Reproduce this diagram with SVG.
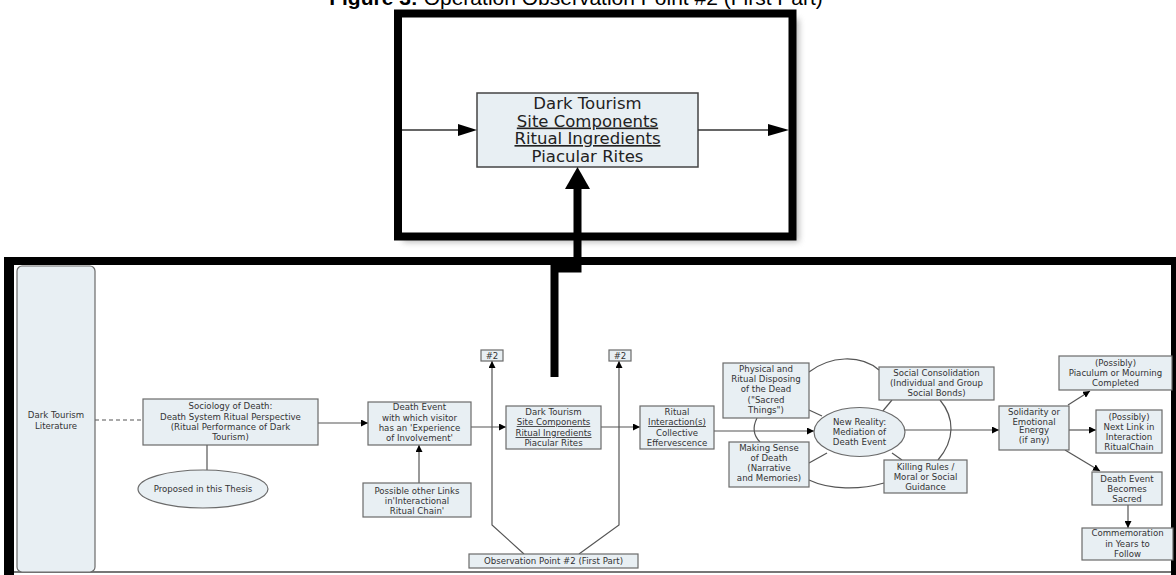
<svg xmlns="http://www.w3.org/2000/svg" width="1176" height="575" viewBox="0 0 1176 575">
<style>
.b{fill:#e8eff3;stroke:#6a6a6a;stroke-width:1.2}
.t{font-family:"DejaVu Sans",Verdana,sans-serif;font-size:8.6px;fill:#333;text-anchor:middle}
.T{font-family:"DejaVu Sans",Verdana,sans-serif;font-size:16.5px;fill:#222;text-anchor:middle}
.u{text-decoration:underline}
.c{fill:none;stroke:#555;stroke-width:1.2}
.k{fill:none;stroke:#000;stroke-width:8}
</style>
<defs>
<marker id="a" viewBox="0 0 10 10" refX="10" refY="5" markerWidth="7" markerHeight="7" markerUnits="userSpaceOnUse" orient="auto"><path d="M0,0L10,5L0,10z" fill="#000"/></marker>
<filter id="sh" x="-10%" y="-10%" width="130%" height="130%"><feGaussianBlur stdDeviation="3"/></filter>
</defs>
<rect width="1176" height="575" fill="#fff"/>
<text x="576" y="5" font-family="Liberation Sans,Arial,sans-serif" font-size="21" fill="#000" text-anchor="middle"><tspan font-weight="bold">Figure 3:</tspan> Operation Observation Point #2 (First Part)</text>

<g id="frame-bottom">
<rect x="14" y="265" width="1157" height="306" fill="#fff"/>
<rect x="4" y="257" width="1172" height="8" fill="#000"/>
<rect x="4" y="257" width="10" height="318" fill="#000"/>
<rect x="1171" y="257" width="5" height="318" fill="#000"/>
<line x1="14" y1="572" x2="1171" y2="572" stroke="#777" stroke-width="2"/>
</g>

<g id="zoom-frame">
<rect x="403" y="19" width="396" height="223" fill="#888" opacity="0.6" filter="url(#sh)"/>
<rect x="398" y="13.5" width="394.5" height="223" fill="#fff" stroke="#000" stroke-width="8"/>
<g id="zoom-box">
<rect x="477" y="93" width="221" height="74" fill="#e8eff3" stroke="#444" stroke-width="1.5"/>
<text class="T" x="587.5" y="109">Dark Tourism</text>
<text class="T u" x="587.5" y="126.5">Site Components</text>
<text class="T u" x="587.5" y="144">Ritual Ingredients</text>
<text class="T" x="587.5" y="162">Piacular Rites</text>
</g>
<line x1="402" y1="130" x2="462" y2="130" stroke="#333" stroke-width="1.5"/>
<path d="M458,124L477,130L458,136z" fill="#000"/>
<line x1="698" y1="130" x2="772" y2="130" stroke="#333" stroke-width="1.5"/>
<path d="M768,124L789,130L768,136z" fill="#000"/>
</g>

<g id="thick-arrow">
<path class="k" d="M577.5,186V268.5H554.5V377"/>
<path d="M565,189L577.5,167L590,189z" fill="#000"/>
</g>

<g id="connectors">
<line x1="95" y1="420" x2="143" y2="420" stroke="#555" stroke-width="1.2" stroke-dasharray="4,3"/>
<line class="c" x1="207" y1="445" x2="207" y2="470"/>
<line class="c" x1="318" y1="423" x2="368" y2="423" marker-end="url(#a)"/>
<line class="c" x1="419" y1="483" x2="419" y2="445" marker-end="url(#a)"/>
<line class="c" x1="471" y1="427" x2="506" y2="427" marker-end="url(#a)"/>
<line class="c" x1="601" y1="427" x2="640" y2="427" marker-end="url(#a)"/>
<polyline class="c" points="524,554 492,525 492,361" marker-end="url(#a)"/>
<polyline class="c" points="579,554 619,525 619,361" marker-end="url(#a)"/>
<line class="c" x1="714" y1="431" x2="814" y2="431" marker-end="url(#a)"/>
<line class="c" x1="905" y1="430" x2="999" y2="430" marker-end="url(#a)"/>
<path class="c" d="M809,372C830,356 860,354 879,370"/>
<line class="c" x1="809" y1="410" x2="822" y2="416"/>
<path class="c" d="M757,418C752,428 754,436 760,442"/>
<line class="c" x1="809" y1="463" x2="827" y2="453"/>
<path class="c" d="M809,480C830,490 860,490 884,483"/>
<line class="c" x1="892" y1="453" x2="902" y2="460"/>
<line class="c" x1="882" y1="412" x2="892" y2="400"/>
<path class="c" d="M940,400C955,418 955,440 938,460"/>
<line class="c" x1="1068" y1="405" x2="1090" y2="391" marker-end="url(#a)"/>
<line class="c" x1="1069" y1="430" x2="1096" y2="430" marker-end="url(#a)"/>
<line class="c" x1="1065" y1="450" x2="1100" y2="471" marker-end="url(#a)"/>
<line class="c" x1="1128" y1="505" x2="1128" y2="528" marker-end="url(#a)"/>
</g>

<g id="literature">
<rect class="b" x="17" y="266" width="78" height="306" rx="5"/>
<text class="t" x="56" y="418">Dark Tourism</text>
<text class="t" x="56" y="429">Literature</text>
</g>
<g id="sociology">
<rect class="b" x="143" y="399" width="175" height="46"/>
<text class="t" x="230.5" y="409">Sociology of Death:</text>
<text class="t" x="230.5" y="420">Death System Ritual Perspective</text>
<text class="t" x="230.5" y="430">(Ritual Performance of Dark</text>
<text class="t" x="230.5" y="440">Tourism)</text>
</g>
<g id="proposed">
<ellipse class="b" cx="203" cy="489" rx="65" ry="19"/>
<text class="t" x="203" y="492">Proposed in this Thesis</text>
</g>
<g id="death-event">
<rect class="b" x="368" y="402" width="103" height="43"/>
<text class="t" x="419.5" y="410">Death Event</text>
<text class="t" x="419.5" y="421">with which visitor</text>
<text class="t" x="419.5" y="431">has an 'Experience</text>
<text class="t" x="419.5" y="441">of Involvement'</text>
</g>
<g id="other-links">
<rect class="b" x="363" y="483" width="108" height="34"/>
<text class="t" x="417" y="494">Possible other Links</text>
<text class="t" x="417" y="504">in'Interactional</text>
<text class="t" x="417" y="514">Ritual Chain'</text>
</g>
<g id="dark-tourism">
<rect class="b" x="506" y="406" width="95" height="43"/>
<text class="t" x="553.5" y="415">Dark Tourism</text>
<text class="t u" x="553.5" y="425">Site Components</text>
<text class="t u" x="553.5" y="436">Ritual Ingredients</text>
<text class="t" x="553.5" y="446">Piacular Rites</text>
</g>
<g id="ritual">
<rect class="b" x="640" y="406" width="74" height="43"/>
<text class="t" x="677" y="415">Ritual</text>
<text class="t u" x="677" y="425">Interaction(s)</text>
<text class="t" x="677" y="436">Collective</text>
<text class="t" x="677" y="446">Effervescence</text>
</g>
<g id="op2-a">
<rect class="b" x="481" y="350" width="22" height="11"/>
<text class="t" x="492" y="359">#2</text>
</g>
<g id="op2-b">
<rect class="b" x="609" y="350" width="22" height="11"/>
<text class="t" x="620" y="359">#2</text>
</g>
<g id="observation">
<rect class="b" x="469" y="554" width="169" height="14"/>
<text class="t" x="553.5" y="564">Observation Point #2 (First Part)</text>
</g>
<g id="physical">
<rect class="b" x="723" y="363" width="86" height="55"/>
<text class="t" x="766" y="372">Physical and</text>
<text class="t" x="766" y="382">Ritual Disposing</text>
<text class="t" x="766" y="392">of the Dead</text>
<text class="t" x="766" y="403">("Sacred</text>
<text class="t" x="766" y="413">Things")</text>
</g>
<g id="making-sense">
<rect class="b" x="729" y="442" width="80" height="45"/>
<text class="t" x="769" y="451">Making Sense</text>
<text class="t" x="769" y="461">of Death</text>
<text class="t" x="769" y="471">(Narrative</text>
<text class="t" x="769" y="481">and Memories)</text>
</g>
<g id="new-reality">
<ellipse class="b" cx="859.5" cy="432" rx="45.5" ry="24.5"/>
<text class="t" x="859.5" y="425">New Reality:</text>
<text class="t" x="859.5" y="435">Mediation of</text>
<text class="t" x="859.5" y="445">Death Event</text>
</g>
<g id="social">
<rect class="b" x="879" y="367" width="115" height="33"/>
<text class="t" x="936.5" y="376">Social Consolidation</text>
<text class="t" x="936.5" y="386">(Individual and Group</text>
<text class="t" x="936.5" y="396">Social Bonds)</text>
</g>
<g id="killing">
<rect class="b" x="884" y="460" width="83" height="33"/>
<text class="t" x="925.5" y="470">Killing Rules /</text>
<text class="t" x="925.5" y="480">Moral or Social</text>
<text class="t" x="925.5" y="490">Guidance</text>
</g>
<g id="solidarity">
<rect class="b" x="999" y="406" width="70" height="44"/>
<text class="t" x="1034" y="415">Solidarity or</text>
<text class="t" x="1034" y="425">Emotional</text>
<text class="t" x="1034" y="433">Energy</text>
<text class="t" x="1034" y="443">(if any)</text>
</g>
<g id="piaculum">
<rect class="b" x="1059" y="356" width="113" height="34"/>
<text class="t" x="1115.5" y="366">(Possibly)</text>
<text class="t" x="1115.5" y="376">Piaculum or Mourning</text>
<text class="t" x="1115.5" y="386">Completed</text>
</g>
<g id="next-link">
<rect class="b" x="1096" y="410" width="66" height="43"/>
<text class="t" x="1129" y="420">(Possibly)</text>
<text class="t" x="1129" y="430">Next Link in</text>
<text class="t" x="1129" y="440">Interaction</text>
<text class="t" x="1129" y="450">RitualChain</text>
</g>
<g id="sacred">
<rect class="b" x="1092" y="472" width="70" height="33"/>
<text class="t" x="1127" y="482">Death Event</text>
<text class="t" x="1127" y="492">Becomes</text>
<text class="t" x="1127" y="502">Sacred</text>
</g>
<g id="commemoration">
<rect class="b" x="1082" y="528" width="91" height="32"/>
<text class="t" x="1127.5" y="536">Commemoration</text>
<text class="t" x="1127.5" y="547">in Years to</text>
<text class="t" x="1127.5" y="557">Follow</text>
</g>
</svg>
